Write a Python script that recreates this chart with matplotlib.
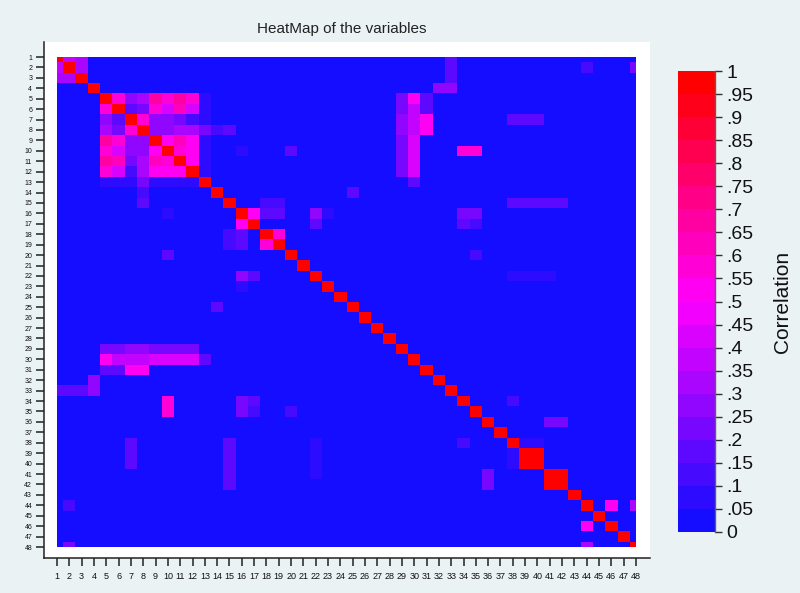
import numpy as np
import matplotlib
matplotlib.use("Agg")
import matplotlib.pyplot as plt
from matplotlib.colors import ListedColormap, BoundaryNorm

plt.rcParams['font.family'] = ['Liberation Sans', 'DejaVu Sans']

n_vars = 48
labels = [str(k) for k in range(1, n_vars + 1)]
base_corr = 0.02   # everything not listed below sits in the lowest (blue) bin

# upper-triangle correlations (variable numbers are 1-based)
var_i = [1, 1, 2, 1, 2, 3, 4, 4, 2, 2,
         5, 5, 5, 5, 5, 5, 5,
         6, 6, 6, 6, 6, 6,
         7, 7, 7, 7, 7,
         8, 8, 8, 8,
         9, 9, 9,
         10, 10,
         11,
         5, 6, 7, 9, 10, 11, 12, 8, 8, 8, 10, 10,
         5, 6, 7, 8, 9, 10, 11, 12,
         5, 6, 7, 8, 9, 10, 11, 12, 13,
         5, 6, 7, 8,
         10, 10, 16, 16, 17, 17,
         7, 7, 7, 15, 15, 15, 15, 15,
         14, 15, 15, 16, 16, 16, 18, 16, 17, 16,
         20, 22, 22, 22, 22, 34, 36, 36, 38, 38,
         39, 41, 44, 44]
var_j = [2, 3, 3, 33, 33, 33, 32, 33, 44, 48,
         6, 7, 8, 9, 10, 11, 12,
         7, 8, 9, 10, 11, 12,
         8, 9, 10, 11, 12,
         9, 10, 11, 12,
         10, 11, 12,
         11, 12,
         12,
         13, 13, 13, 13, 13, 13, 13, 13, 14, 15, 16, 20,
         29, 29, 29, 29, 29, 29, 29, 29,
         30, 30, 30, 30, 30, 30, 30, 30, 30,
         31, 31, 31, 31,
         34, 35, 34, 35, 34, 35,
         38, 39, 40, 38, 39, 40, 41, 42,
         25, 18, 19, 18, 19, 17, 19, 22, 22, 23,
         35, 38, 39, 40, 41, 38, 41, 42, 39, 40,
         40, 42, 46, 48]
corr = [0.35, 0.30, 0.30, 0.15, 0.15, 0.15, 0.25, 0.25, 0.12, 0.20,
        0.55, 0.25, 0.30, 0.65, 0.55, 0.65, 0.55,
        0.15, 0.20, 0.55, 0.40, 0.60, 0.40,
        0.55, 0.25, 0.25, 0.20, 0.10,
        0.25, 0.25, 0.30, 0.30,
        0.50, 0.60, 0.50,
        0.55, 0.50,
        0.50,
        0.08, 0.08, 0.08, 0.08, 0.08, 0.08, 0.08, 0.20, 0.12, 0.15, 0.08, 0.15,
        0.20, 0.20, 0.25, 0.25, 0.20, 0.20, 0.20, 0.20,
        0.50, 0.35, 0.35, 0.35, 0.40, 0.40, 0.40, 0.40, 0.15,
        0.15, 0.15, 0.50, 0.50,
        0.55, 0.55, 0.20, 0.20, 0.15, 0.12,
        0.15, 0.15, 0.15, 0.15, 0.18, 0.18, 0.15, 0.15,
        0.15, 0.12, 0.12, 0.15, 0.15, 0.50, 0.55, 0.25, 0.15, 0.08,
        0.12, 0.08, 0.08, 0.08, 0.08, 0.12, 0.20, 0.20, 0.08, 0.08,
        1.00, 1.00, 0.50, 0.30]

cbar_ticks = [round(0.05 * k, 2) for k in range(21)]

# build the symmetric matrix
mat = np.full((n_vars, n_vars), base_corr)
np.fill_diagonal(mat, 1.0)
for i, j, v in zip(var_i, var_j, corr):
    mat[i - 1, j - 1] = v
    mat[j - 1, i - 1] = v

# 20 discrete colours: blue -> magenta -> red
blue = np.array([0.08, 0.05, 1.0])
magenta = np.array([1.0, 0.0, 1.0])
red = np.array([1.0, 0.0, 0.0])
cols = []
for k in range(20):
    t = k / 19
    if t <= 0.5:
        c = blue + (magenta - blue) * (t / 0.5)
    else:
        c = magenta + (red - magenta) * ((t - 0.5) / 0.5)
    cols.append(c)
cmap = ListedColormap(cols)
cmap.set_over(cols[-1])
norm = BoundaryNorm(cbar_ticks, cmap.N)

bg = '#eaf2f3'
fig = plt.figure(figsize=(8, 5.93), dpi=100, facecolor=bg)
ax = fig.add_axes([44 / 800, 1 - 558 / 593, 606 / 800, 516 / 593])
ax.set_facecolor('white')

# cells centred on integers, plot cut at the first/last centre (half cells at edges)
edges = np.concatenate([[1], np.arange(1.5, n_vars, 1.0), [n_vars]])
mesh = ax.pcolormesh(edges, edges, mat, cmap=cmap, norm=norm, shading='flat')

px_x = 579 / 47
px_y = 490 / 47
ax.set_xlim(1 - 13 / px_x, n_vars + 14 / px_x)
ax.set_ylim(n_vars + 11 / px_y, 1 - 15 / px_y)

pos = np.arange(1, n_vars + 1)
ax.set_xticks(pos)
ax.set_xticklabels(labels, fontsize=6.5, color='#111111')
ax.set_yticks(pos)
ax.set_yticklabels(labels, fontsize=5, color='#111111')
ax.tick_params(axis='x', length=6, width=1.1, pad=4, color='#222222')
ax.tick_params(axis='y', length=6, width=1.1, pad=2.5, color='#222222')
for s in ['top', 'right']:
    ax.spines[s].set_visible(False)
for s in ['left', 'bottom']:
    ax.spines[s].set_color('#222222')
    ax.spines[s].set_linewidth(1.1)

fig.text(342 / 800, 1 - 29.5 / 593, 'HeatMap of the variables', ha='center',
         va='center', fontsize=11, color='#222222')

# colour bar
cax = fig.add_axes([678 / 800, 1 - 532 / 593, 37 / 800, 461 / 593])
cb = fig.colorbar(mesh, cax=cax, ticks=cbar_ticks, spacing='proportional')
cb.outline.set_visible(False)
cax.plot([1, 1], [0, 1], transform=cax.transAxes, color='#556655', lw=1, clip_on=False)


def short_lab(v):
    if v == 0:
        return '0'
    if v == 1:
        return '1'
    return ('%.2f' % v).rstrip('0').lstrip('0')


cb.set_ticklabels([short_lab(v) for v in cbar_ticks])
cax.tick_params(length=5, width=1, pad=3, labelsize=14, color='#333333',
                labelcolor='#111111')
cb.set_label('Correlation', fontsize=15, color='#111111', labelpad=14)

fig.savefig('out.png', dpi=100, facecolor=bg)
